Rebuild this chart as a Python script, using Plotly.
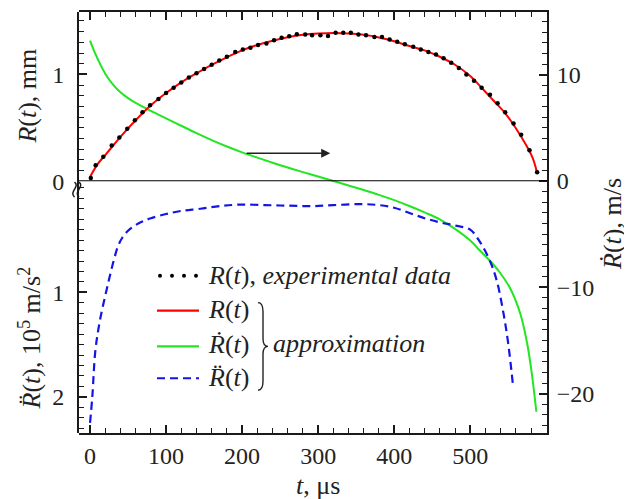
import plotly.graph_objects as go

# ---------------- data ----------------
t_exp = [1, 7.4, 17.5, 28.5, 38.6, 49, 59, 69, 79, 90, 100, 110, 120, 130, 140,
         150, 160, 170, 180, 191, 201, 211, 221, 232, 242, 252, 262, 272, 283, 292,
         303, 313, 323, 333, 343, 353, 363, 374, 384, 394, 404, 414, 425, 435, 445,
         455, 465, 475, 485, 495, 505, 515, 526, 536, 546, 557, 567, 578, 588]
R_exp = [0.03, 0.15, 0.23, 0.335, 0.41, 0.49, 0.57, 0.645, 0.71, 0.77, 0.825, 0.875,
         0.925, 0.97, 1.01, 1.05, 1.09, 1.13, 1.165, 1.21, 1.233, 1.249, 1.274, 1.289,
         1.32, 1.342, 1.358, 1.376, 1.373, 1.367, 1.367, 1.36, 1.39, 1.39, 1.39, 1.373,
         1.367, 1.35, 1.35, 1.327, 1.305, 1.283, 1.258, 1.233, 1.21, 1.186, 1.15, 1.11,
         1.06, 1.00, 0.94, 0.876, 0.81, 0.73, 0.645, 0.54, 0.435, 0.29, 0.084]

t_fit = [0, 10, 20, 30, 40, 60, 80, 100, 120, 140, 160, 180, 200, 220, 240, 260, 280,
         300, 320, 340, 360, 380, 400, 420, 440, 460, 480, 500, 515, 530, 545, 555,
         565, 575, 582, 588]
R_fit = [0.04, 0.16, 0.245, 0.33, 0.415, 0.57, 0.71, 0.825, 0.925, 1.01, 1.09, 1.16,
         1.225, 1.275, 1.315, 1.348, 1.37, 1.382, 1.387, 1.383, 1.37, 1.345, 1.31,
         1.265, 1.225, 1.165, 1.09, 0.985, 0.875, 0.76, 0.645, 0.55, 0.44, 0.32, 0.22,
         0.08]

t_vel = [0, 5, 10, 20, 30, 40, 50, 60, 80, 100, 120, 140, 160, 180, 200, 220, 240,
         260, 280, 300, 320, 340, 360, 380, 400, 420, 440, 460, 480, 500, 513, 526,
         539, 553, 566, 575, 581, 587]
V_fit = [13.2, 12.3, 11.5, 10.1, 9.1, 8.35, 7.8, 7.35, 6.6, 5.9, 5.2, 4.5, 3.85, 3.25,
         2.7, 2.2, 1.72, 1.27, 0.84, 0.42, 0.0, -0.42, -0.85, -1.3, -1.8, -2.35, -2.95,
         -3.6, -4.5, -5.6, -6.56, -7.5, -8.6, -10.15, -12.5, -15.3, -18.1, -21.7]

t_acc = [0, 3, 7, 13, 22, 31, 37, 43, 50, 58, 68, 80, 100, 120, 145, 170, 197, 230,
         260, 290, 320, 355, 380, 400, 420, 440, 460, 480, 500, 513, 526, 535, 544,
         550, 556]
A_fit = [2.25, 2.0, 1.56, 1.27, 0.97, 0.70, 0.555, 0.47, 0.41, 0.365, 0.325, 0.29,
         0.25, 0.22, 0.2, 0.175, 0.16, 0.165, 0.17, 0.175, 0.165, 0.155, 0.165, 0.19,
         0.24, 0.29, 0.33, 0.36, 0.40, 0.52, 0.70, 0.89, 1.21, 1.49, 1.87]

x_ticks = [0, 100, 200, 300, 400, 500]
R_ticks = [0, 1]
A_ticks = [1, 2]
V_ticks = [-20, -10, 0, 10]

# ---------------- layout helpers ----------------
BODY = 8                      # default page margin of the html body
W, H = 632 - BODY, 499 - BODY
L, R_, T, B = 79, 547, 10, 433  # plot area in window pixels
FONT = "'Liberation Serif', 'Times New Roman', Times, 'DejaVu Serif', serif"
AX = "#1a1a1a"
RED, GREEN, BLUE = "#ff0000", "#22e622", "#1414e6"


def px(x):
    return (x - L) / (R_ - L)


def py(y):
    return (B - y) / (B - T)


split = py(180)

fig = go.Figure()
fig.add_trace(go.Scatter(x=t_vel, y=V_fit, mode="lines", line=dict(color=GREEN, width=2, shape="spline"),
                         xaxis="x", yaxis="y", showlegend=False))
fig.add_trace(go.Scatter(x=t_acc, y=A_fit, mode="lines",
                         line=dict(color=BLUE, width=2.2, dash="8px,5px", shape="spline"),
                         xaxis="x", yaxis="y3", showlegend=False))
fig.add_trace(go.Scatter(x=t_fit, y=R_fit, mode="lines", line=dict(color=RED, width=2, shape="spline"),
                         xaxis="x", yaxis="y2", showlegend=False))
fig.add_trace(go.Scatter(x=t_exp, y=R_exp, mode="markers", marker=dict(color="black", size=4.5),
                         xaxis="x", yaxis="y2", showlegend=False))

tickfont = dict(family=FONT, size=24, color="#222")
common = dict(showline=True, linecolor=AX, linewidth=2, ticks="inside", ticklen=8,
              tickwidth=1.5, tickcolor=AX, showgrid=False, zeroline=False, tickfont=tickfont)
minor = lambda d: dict(tickmode="linear", tick0=0, dtick=d, ticks="inside", ticklen=5,
                       tickwidth=1.2, tickcolor=AX)

fig.update_layout(
    width=W, height=H,
    margin=dict(l=L - BODY, r=632 - R_, t=T - BODY, b=499 - B, pad=0),
    paper_bgcolor="white", plot_bgcolor="rgba(0,0,0,0)",
    font=dict(family=FONT, color="#222"),
    xaxis=dict(range=[-14.5, 601], anchor="y", mirror="ticks", tickvals=x_ticks,
               minor=minor(20), ticklabelstandoff=0, **common),
    yaxis=dict(range=[-23.7, 15.9], domain=[0, 1], anchor="x", side="right", tickvals=V_ticks,
               minor=minor(1), ticklabelstandoff=3, **common),
    yaxis2=dict(range=[0, 1.584], domain=[split, 1], anchor="x", side="left", tickvals=R_ticks,
                minor=minor(0.1), ticklabelstandoff=8, **common),
    yaxis3=dict(range=[2.346, -0.064], domain=[0, split], anchor="x", side="left", tickvals=A_ticks,
                minor=minor(0.1), ticklabelstandoff=8, **common),
)

shapes = []
# zero line separating the panels
shapes.append(dict(type="line", xref="paper", yref="y2", x0=0, x1=1, y0=0, y1=0,
                   line=dict(color="black", width=2), layer="above"))

# axis-break mark on the left axis
for dx in (-4.5, 0.0):
    x0 = L + dx
    path = (f"M{px(x0):.5f},{py(181):.5f} C{px(x0 + 6):.5f},{py(185):.5f} "
            f"{px(x0 - 6):.5f},{py(191):.5f} {px(x0):.5f},{py(196):.5f}")
    shapes.append(dict(type="path", xref="paper", yref="paper", path=path,
                       line=dict(color=AX, width=1.5)))

# legend samples
for cx in [160, 172, 184, 196]:
    shapes.append(dict(type="circle", xref="paper", yref="paper",
                       x0=px(cx - 2), x1=px(cx + 2), y0=py(275 + 2), y1=py(275 - 2),
                       fillcolor="black", line=dict(width=0)))
for yy, col, dash in [(310, RED, "solid"), (346, GREEN, "solid"), (378, BLUE, "8px,5px")]:
    shapes.append(dict(type="line", xref="paper", yref="paper", x0=px(157), x1=px(199),
                       y0=py(yy), y1=py(yy), line=dict(color=col, width=2.2, dash=dash)))

# brace
bx0, bx1, bx2 = 258, 263, 268
yt, ym, yb = 302, 346, 390
pts = [("M", bx0, yt), ("Q", bx1, yt, bx1, yt + 9), ("L", bx1, ym - 8),
       ("Q", bx1, ym, bx2, ym), ("Q", bx1, ym, bx1, ym + 8), ("L", bx1, yb - 9),
       ("Q", bx1, yb, bx0, yb)]
path = ""
for p in pts:
    coords = p[1:]
    s = " ".join(f"{px(coords[i]):.5f},{py(coords[i + 1]):.5f}" for i in range(0, len(coords), 2))
    path += f"{p[0]}{s} "
shapes.append(dict(type="path", xref="paper", yref="paper", path=path.strip(),
                   line=dict(color="#222", width=1.4)))

fig.update_layout(shapes=shapes)

ann = []


def txt(x, y, s, xanchor="left", angle=0, size=26):
    ann.append(dict(xref="paper", yref="paper", x=px(x), y=py(y), text=s, showarrow=False,
                    xanchor=xanchor, yanchor="middle", textangle=angle,
                    font=dict(family=FONT, size=size, color="#222")))


txt(206, 275, "<i>R</i>(<i>t</i>), <i>experimental data</i>")
txt(206, 309, "<i>R</i>(<i>t</i>)")
txt(206, 344, "<i>Ṙ</i>(<i>t</i>)")
txt(206, 377, "<i>R\u0308</i>(<i>t</i>)")
txt(271, 343, "<i>approximation</i>")

# axis titles
txt(28, 95, "<i>R</i>(<i>t</i>), mm", xanchor="center", angle=-90)
txt(30, 338, "<i>R\u0308</i>(<i>t</i>), 10<sup>5</sup> m/s<sup>2</sup>", xanchor="center", angle=-90)
txt(613, 223, "<i>Ṙ</i>(<i>t</i>), m/s", xanchor="center", angle=-90)
txt(318, 486, "<i>t</i>, μs", xanchor="center")

# arrow pointing to the right-hand axis
ann.append(dict(xref="x", yref="y2", x=316, y=0.261, axref="x", ayref="y2", ax=204, ay=0.261,
                showarrow=True, arrowhead=2, arrowsize=1.3, arrowwidth=1.4, arrowcolor="#222", text=""))

fig.update_layout(annotations=ann)

fig.write_html("out.html")
